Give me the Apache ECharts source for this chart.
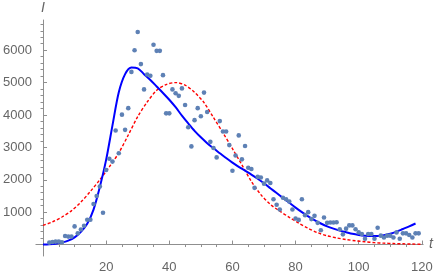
<!DOCTYPE html>
<html>
<head>
<meta charset="utf-8">
<script src="https://cdn.jsdelivr.net/npm/echarts@6/dist/echarts.min.js"></script>
<style>
html,body{margin:0;padding:0;background:#fff;}
#chart{width:436px;height:274px;}
</style>
</head>
<body>
<div id="chart"></div>
<script>
// Observed data (day, count)
var days = [2,3,4,5,6,7,8,9,10,11,12,13,14,15,16,17,18,19,20,21,22,23,24,25,26,27,28,29,30,31,32,33,34,35,36,37,38,39,40,41,42,43,44,45,46,47,48,49,50,51,52,53,54,55,56,57,58,59,60,61,62,63,64,65,66,67,68,69,70,71,72,73,74,75,76,77,78,79,80,81,82,83,84,85,86,87,88,89,90,91,92,93,94,95,96,97,98,99,100,101,102,103,104,105,106,107,108,109,110,111,112,113,114,115,116,117,118,119];
var cases = [60,80,90,90,70,265,245,245,560,345,462,580,767,767,1250,1500,1790,983,2300,2650,2560,3520,2820,4010,3540,4210,5330,6000,6560,5570,4790,5250,5210,6170,5980,5980,5230,4050,4050,4790,4670,4590,4820,4310,3620,3030,3840,4210,3960,4690,4090,3170,2980,2690,3810,3490,3490,3070,2280,2750,3370,2630,3040,2370,2330,1750,2090,2070,1880,1980,1900,1400,1230,1080,1445,1400,1330,1080,805,760,1400,905,1000,785,885,670,440,835,670,680,680,690,470,315,490,590,590,470,375,325,177,325,325,177,520,275,215,275,275,215,375,177,345,345,295,215,345,345];

// Blue solid fit curve, every 2 days
var blueT = [0,2,4,6,8,10,12,14,16,18,20,22,24,26,28,30,32,34,36,38,40,42,44,46,48,50,52,54,56,58,60,62,64,66,68,70,72,74,76,78,80,82,84,86,88,90,92,94,96,98,100,102,104,106,108,110,112,114,116,118];
var blueV = [0,8,25,60,120,220,390,640,1080,1780,2620,3680,4700,5260,5465,5440,5260,5080,4880,4680,4470,4240,3980,3740,3510,3310,3130,2970,2820,2670,2530,2400,2280,2160,2030,1890,1740,1590,1440,1290,1140,1000,870,750,650,560,490,430,380,330,295,272,262,265,290,335,400,480,560,650];

// Red dashed fit curve, every 3 days
var redT = [0,3,6,9,12,15,18,21,24,27,30,33,36,39,42,45,48,51,54,57,60,63,66,69,72,75,78,81,84,87,90,93,96,99,102,105,108,111,114,117,120];
var redV = [590,700,850,1040,1310,1640,2000,2400,2830,3380,3950,4400,4760,4940,5000,4920,4700,4380,3920,3450,2960,2460,1950,1540,1240,1030,840,660,500,365,270,205,155,115,85,58,42,30,22,15,10];

// Axis ticks
var xMajor = [20,40,60,80,100,120];
var xMinor = [5,10,15,25,30,35,45,50,55,65,70,75,85,90,95,105,110,115];
var yMajor = [1000,2000,3000,4000,5000,6000];
var yMinor = [200,400,600,800,1200,1400,1600,1800,2200,2400,2600,2800,3200,3400,3600,3800,4200,4400,4600,4800,5200,5400,5600,5800,6200,6400,6600,6800];

function zip(a,b){var r=[];for(var i=0;i<a.length;i++)r.push([a[i],b[i]]);return r;}
function plain(v){return String(Math.round(v));}

var X_MIN=-2.25, X_MAX=120.4, Y_MIN=-354, Y_MAX=6932;
var axisColor='#8f8f8f', labelColor='#666666';
var font='"Liberation Sans", Arial, sans-serif';

var chart = echarts.init(document.getElementById('chart'), null, {renderer:'canvas'});
chart.setOption({
  animation:false,
  backgroundColor:'#ffffff',
  grid:{left:25, right:11.6, top:20, bottom:7, containLabel:false},
  xAxis:[{
    type:'value', min:X_MIN, max:X_MAX,
    name:'t', nameLocation:'end', nameGap:6,
    nameTextStyle:{color:labelColor, fontStyle:'italic', fontSize:14, fontFamily:font, verticalAlign:'middle'},
    axisLine:{show:true, onZero:true, onZeroAxisIndex:0, lineStyle:{color:axisColor, width:1}},
    axisTick:{show:true, inside:true, length:4, customValues:xMajor, lineStyle:{color:axisColor}},
    axisLabel:{show:true, customValues:xMajor, formatter:plain, color:labelColor, fontSize:13, fontFamily:font, margin:5},
    splitLine:{show:false}, minorTick:{show:false}
  },{
    type:'value', min:X_MIN, max:X_MAX,
    axisLine:{show:false, onZero:true, onZeroAxisIndex:0},
    axisTick:{show:true, inside:true, length:2.5, customValues:xMinor, lineStyle:{color:axisColor}},
    axisLabel:{show:false}, splitLine:{show:false}
  }],
  yAxis:[{
    type:'value', min:Y_MIN, max:Y_MAX,
    name:'I', nameLocation:'end', nameGap:5,
    nameTextStyle:{color:labelColor, fontStyle:'italic', fontSize:14, fontFamily:font, align:'center'},
    axisLine:{show:true, onZero:true, onZeroAxisIndex:0, lineStyle:{color:axisColor, width:1}},
    axisTick:{show:true, inside:true, length:4, customValues:yMajor, lineStyle:{color:axisColor}},
    axisLabel:{show:true, customValues:yMajor, formatter:plain, color:labelColor, fontSize:13, fontFamily:font, margin:4},
    splitLine:{show:false}, minorTick:{show:false}
  },{
    type:'value', min:Y_MIN, max:Y_MAX,
    axisLine:{show:false, onZero:true, onZeroAxisIndex:0},
    axisTick:{show:true, inside:true, length:2.5, customValues:yMinor, lineStyle:{color:axisColor}},
    axisLabel:{show:false}, splitLine:{show:false}
  }],
  series:[{
    type:'line', name:'fit2', xAxisIndex:0, yAxisIndex:0,
    data:zip(redT,redV), smooth:0.3, showSymbol:false, z:3,
    lineStyle:{color:'#ff0000', width:1.4, type:[3,2]}
  },{
    type:'line', name:'fit1', xAxisIndex:0, yAxisIndex:0,
    data:zip(blueT,blueV), smooth:0.3, showSymbol:false, z:4,
    lineStyle:{color:'#0000ff', width:2}
  },{
    type:'scatter', name:'data', xAxisIndex:0, yAxisIndex:0,
    data:zip(days,cases), symbolSize:4.6, z:5,
    itemStyle:{color:'#5e81b5', opacity:1}
  }]
});
</script>
</body>
</html>
